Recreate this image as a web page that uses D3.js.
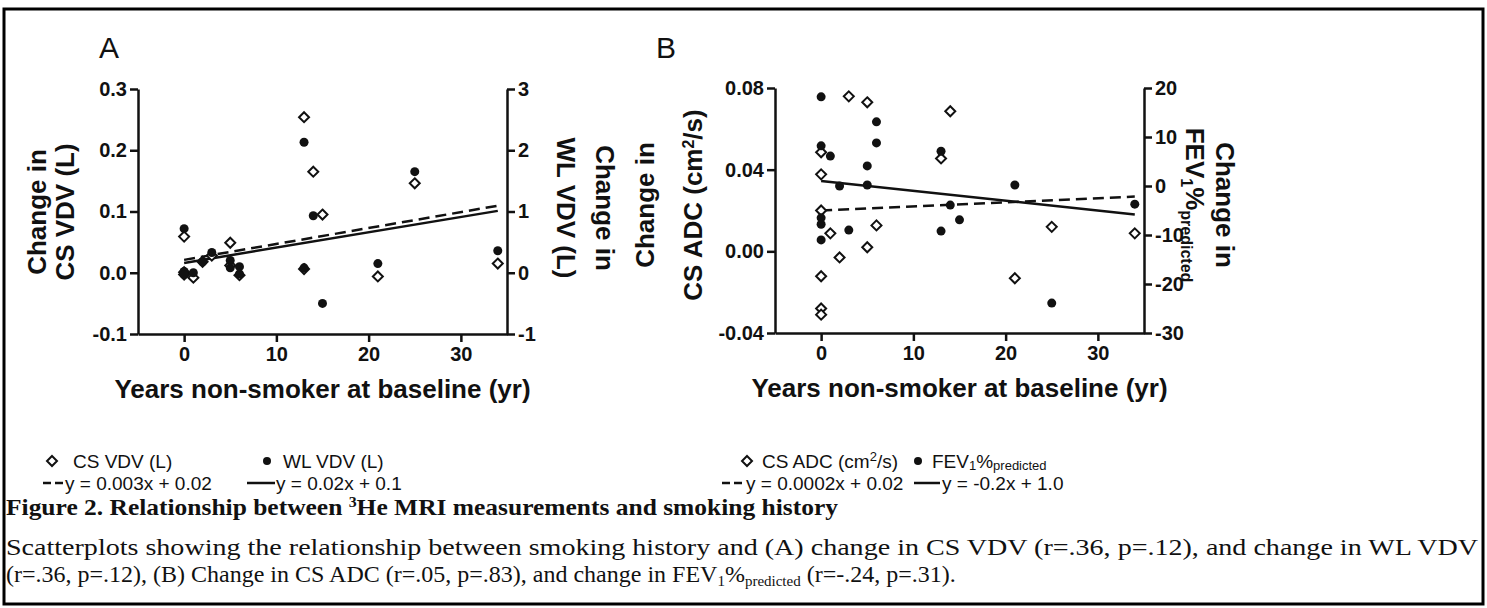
<!DOCTYPE html>
<html>
<head>
<meta charset="utf-8">
<script src="https://cdn.jsdelivr.net/npm/d3@7"></script>
<style>
    body { margin: 0; background: #fff; }
    svg text { font-family: "Liberation Sans", Arial, sans-serif; fill: #111; }
    svg .serif { font-family: "Liberation Serif", "Times New Roman", serif; }
    .axis path, .axis line { stroke: #111; stroke-width: 2.5; }
    .axis text { font-size: 20px; font-weight: bold; fill: #111; }
</style>
</head>
<body>
<svg id="chart" width="1487" height="608"></svg>
<script>
// Panel A: change in CS VDV (left axis) and WL VDV (right axis)
const csVdvYears = [0, 0, 0, 1, 2, 3, 5, 5, 6, 13, 13, 14, 15, 21, 25, 34];
const csVdv = [0.059, 0.001, -0.003, -0.008, 0.018, 0.028, 0.049, 0.012, -0.004, 0.254, 0.006, 0.165, 0.095, -0.006, 0.146, 0.015];
const wlVdvYears = [0, 0, 0, 1, 2, 3, 5, 5, 6, 6, 13, 13, 14, 15, 21, 25, 34];
const wlVdv = [0.72, 0.02, -0.03, 0.0, 0.18, 0.33, 0.2, 0.08, 0.1, -0.02, 2.13, 0.08, 0.93, -0.5, 0.15, 1.65, 0.36];

// Panel B: change in CS ADC (left axis) and FEV1 %pred (right axis)
const adcYears = [0, 0, 0, 0, 0, 0, 1, 2, 3, 5, 5, 6, 13, 14, 21, 25, 34];
const adc = [0.0485, 0.0377, 0.020, -0.0122, -0.028, -0.031, 0.0088, -0.003, 0.0759, 0.073, 0.002, 0.0127, 0.0455, 0.0686, -0.0132, 0.012, 0.0088];
const fevYears = [0, 0, 0, 0, 0, 1, 2, 3, 5, 5, 6, 6, 13, 13, 14, 15, 21, 25, 34];
const fev = [18.2, 8.2, -6.5, -7.8, -11, 6.1, 0, -9.0, 4.1, 0.2, 13.1, 8.8, 7.1, -9.2, -3.9, -6.9, 0.2, -23.9, -3.7];

// regression lines [slope, intercept], drawn over the observed x range
const fitRange = [0, 34];
const fitA = { dashed: [0.0026, 0.021], solid: [0.025, 0.16] };
const fitB = { dashed: [0.0002, 0.02], solid: [-0.2, 1.0] };

const xTicks = [0, 10, 20, 30];
const ticksA = { left: [-0.1, 0, 0.1, 0.2, 0.3], right: [-1, 0, 1, 2, 3] };
const ticksB = { left: [-0.04, 0, 0.04, 0.08], right: [-30, -20, -10, 0, 10, 20] };

const svg = d3.select('#chart');

// figure frame
svg.append('rect')
    .attr('x', 4).attr('y', 9).attr('width', 1479).attr('height', 595)
    .attr('fill', 'none').attr('stroke', '#000').attr('stroke-width', 3);

function diamond(g, x, y) {
    g.append('path')
        .attr('d', `M${x},${y - 5}L${x + 5},${y}L${x},${y + 5}L${x - 5},${y}Z`)
        .attr('fill', '#fff').attr('stroke', '#111').attr('stroke-width', 2);
}

function drawPanel(opt) {
    const g = svg.append('g');
    const x = d3.scaleLinear().domain([-5, 35]).range([opt.left, opt.left + 369]);
    const yL = d3.scaleLinear().domain(opt.leftDomain).range([opt.bottom, opt.top]);
    const yR = d3.scaleLinear().domain(opt.rightDomain).range([opt.bottom, opt.top]);
    const right = opt.left + 369;

    g.append('g').attr('class', 'axis')
        .attr('transform', `translate(${opt.left},0)`)
        .call(d3.axisLeft(yL).tickValues(opt.leftTicks).tickFormat(d3.format(opt.leftFmt))
            .tickSize(8).tickSizeOuter(0).tickPadding(3));
    g.append('g').attr('class', 'axis')
        .attr('transform', `translate(${right},0)`)
        .call(d3.axisRight(yR).tickValues(opt.rightTicks).tickFormat(d3.format('d'))
            .tickSize(8).tickSizeOuter(0).tickPadding(3));
    g.append('g').attr('class', 'axis')
        .attr('transform', `translate(0,${opt.bottom})`)
        .call(d3.axisBottom(x).tickValues(xTicks).tickSize(8).tickSizeOuter(0).tickPadding(5));
    g.selectAll('.axis text').text(function () { return this.textContent.replace('−', '-'); });

    // fit lines
    const lineL = d3.line().x(d => x(d)).y(d => yL(opt.fit.dashed[0] * d + opt.fit.dashed[1]));
    const lineR = d3.line().x(d => x(d)).y(d => yR(opt.fit.solid[0] * d + opt.fit.solid[1]));
    g.append('path').datum(fitRange).attr('d', lineL)
        .attr('fill', 'none').attr('stroke', '#111').attr('stroke-width', 2.5).attr('stroke-dasharray', '11,6');
    g.append('path').datum(fitRange).attr('d', lineR)
        .attr('fill', 'none').attr('stroke', '#111').attr('stroke-width', 2.5);

    // open diamonds (left series), then filled dots (right series)
    opt.leftX.forEach((v, i) => diamond(g, x(v), yL(opt.leftY[i])));
    g.selectAll('circle.dot')
        .data(opt.rightX.map((v, i) => [v, opt.rightY[i]]))
        .join('circle')
        .attr('cx', d => x(d[0])).attr('cy', d => yR(d[1])).attr('r', 4.5)
        .attr('fill', '#111');

    // x title
    g.append('text')
        .attr('x', (opt.left + right) / 2).attr('y', opt.bottom + 64)
        .attr('text-anchor', 'middle').attr('font-size', 26).attr('font-weight', 'bold')
        .text('Years non-smoker at baseline (yr)');

    // panel letter
    g.append('text').attr('x', opt.letterX).attr('y', 58).attr('font-size', 30).text(opt.letter);
}

function rotated(x, y, angle, build) {
    const t = svg.append('text')
        .attr('transform', `translate(${x},${y}) rotate(${angle})`)
        .attr('text-anchor', 'middle').attr('font-size', 26).attr('font-weight', 'bold');
    build(t);
    return t;
}

drawPanel({
    left: 138, top: 89, bottom: 334, letter: 'A', letterX: 99,
    leftDomain: [-0.1, 0.3], rightDomain: [-1, 3],
    leftTicks: ticksA.left, rightTicks: ticksA.right, leftFmt: '.1f',
    leftX: csVdvYears, leftY: csVdv, rightX: wlVdvYears, rightY: wlVdv, fit: fitA
});
drawPanel({
    left: 775, top: 88, bottom: 333, letter: 'B', letterX: 656,
    leftDomain: [-0.04, 0.08], rightDomain: [-30, 20],
    leftTicks: ticksB.left, rightTicks: ticksB.right, leftFmt: '.2f',
    leftX: adcYears, leftY: adc, rightX: fevYears, rightY: fev, fit: fitB
});

// axis titles
rotated(46, 212, -90, t => t.text('Change in'));
rotated(74, 212, -90, t => t.text('CS VDV (L)'));
rotated(596, 208, 90, t => t.text('Change in'));
rotated(557, 208, 90, t => t.text('WL VDV (L)'));
rotated(654, 205, -90, t => t.text('Change in'));
rotated(702, 205, -90, t => {
    t.append('tspan').text('CS ADC (cm');
    t.append('tspan').attr('baseline-shift', 'super').attr('font-size', 16).text('2');
    t.append('tspan').text('/s)');
});
rotated(1216, 205, 90, t => t.text('Change in'));
rotated(1186, 205, 90, t => {
    t.append('tspan').text('FEV');
    t.append('tspan').attr('dy', 5).attr('font-size', 16).text('1');
    t.append('tspan').attr('dy', -5).text('%');
    t.append('tspan').attr('dy', 5).attr('font-size', 16).text('predicted');
});

// legends
const ROW1 = 461, ROW2 = 483;
function legend(items) {
    const g = svg.append('g').attr('font-size', 19);
    items.forEach(it => {
        if (it.type === 'diamond') diamond(g, it.dx, ROW1);
        if (it.type === 'dot') g.append('circle').attr('cx', it.dx).attr('cy', ROW1).attr('r', 4).attr('fill', '#111');
        if (it.type === 'dash' || it.type === 'solid') {
            g.append('line').attr('x1', it.dx).attr('x2', it.dx + it.len)
                .attr('y1', ROW2).attr('y2', ROW2).attr('stroke', '#111').attr('stroke-width', 2.5)
                .attr('stroke-dasharray', it.type === 'dash' ? '8,4' : null);
        }
        if (it.text) {
            const t = g.append('text').attr('x', it.tx).attr('y', (it.row === 1 ? ROW1 : ROW2) + 7);
            let shift = 0;
            it.text.forEach(p => {
                const s = t.append('tspan').text(p[0]);
                const want = p[1] === 'sup' ? -7 : p[1] === 'sub' ? 2 : 0;
                if (want !== shift) s.attr('dy', want - shift);
                shift = want;
                if (p[1]) s.attr('font-size', 13);
            });
        }
    });
}
legend([
    { type: 'diamond', dx: 52 }, { row: 1, tx: 73, text: [['CS VDV (L)']] },
    { type: 'dot', dx: 267 }, { row: 1, tx: 283, text: [['WL VDV (L)']] },
    { type: 'dash', dx: 43, len: 20 }, { row: 2, tx: 65, text: [['y = 0.003x + 0.02']] },
    { type: 'solid', dx: 247, len: 28 }, { row: 2, tx: 276, text: [['y = 0.02x + 0.1']] }
]);
legend([
    { type: 'diamond', dx: 747 }, { row: 1, tx: 762, text: [['CS ADC (cm'], ['2', 'sup'], ['/s)']] },
    { type: 'dot', dx: 918 }, { row: 1, tx: 932, text: [['FEV'], ['1', 'sub'], ['%'], ['predicted', 'sub']] },
    { type: 'dash', dx: 722, len: 20 }, { row: 2, tx: 746, text: [['y = 0.0002x + 0.02']] },
    { type: 'solid', dx: 914, len: 26 }, { row: 2, tx: 942, text: [['y = -0.2x + 1.0']] }
]);

// caption
const cap = svg.append('g');
const c1 = cap.append('text').attr('class', 'serif').attr('x', 6).attr('y', 515)
    .attr('font-size', 24).attr('font-weight', 'bold')
    .attr('textLength', 832).attr('lengthAdjust', 'spacingAndGlyphs');
c1.append('tspan').text('Figure 2.  Relationship between ');
c1.append('tspan').attr('dy', -8).attr('font-size', 15).text('3');
c1.append('tspan').attr('dy', 8).text('He MRI measurements and smoking history');

cap.append('text').attr('class', 'serif').attr('x', 6).attr('y', 555).attr('font-size', 24)
    .attr('textLength', 1472).attr('lengthAdjust', 'spacingAndGlyphs')
    .text('Scatterplots showing the relationship between smoking history and (A) change in CS VDV (r=.36, p=.12), and change in WL VDV');

const c3 = cap.append('text').attr('class', 'serif').attr('x', 6).attr('y', 582).attr('font-size', 24);
c3.append('tspan').text('(r=.36, p=.12), (B) Change in CS ADC (r=.05, p=.83), and change in FEV');
c3.append('tspan').attr('dy', 4).attr('font-size', 15).text('1');
c3.append('tspan').attr('dy', -4).text('%');
c3.append('tspan').attr('dy', 4).attr('font-size', 15).text('predicted');
c3.append('tspan').attr('dy', -4).text(' (r=-.24, p=.31).');
</script>
</body>
</html>
